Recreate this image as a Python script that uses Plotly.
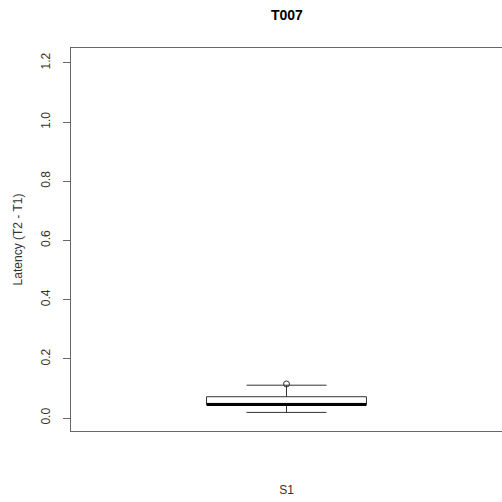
import plotly.graph_objects as go

groups = ["S1"]
q1 = [0.046]
median = [0.046]
q3 = [0.072]
lower_fence = [0.019]
upper_fence = [0.111]
outlier_values = [0.115]
y_ticks = [0.0, 0.2, 0.4, 0.6, 0.8, 1.0, 1.2]
y_tick_labels = ["0.0", "0.2", "0.4", "0.6", "0.8", "1.0", "1.2"]

pos = [1]
box_w = 0.371

fig = go.Figure()
fig.add_trace(go.Box(
    x=pos, q1=q1, median=median, q3=q3,
    lowerfence=lower_fence, upperfence=upper_fence,
    width=box_w, whiskerwidth=0.5,
    fillcolor="white",
    line=dict(color="#333333", width=1),
    boxpoints=False, hoverinfo="skip", showlegend=False,
))
fig.add_trace(go.Scatter(
    x=[pos[0] - box_w / 2, pos[0] + box_w / 2], y=[median[0], median[0]],
    mode="lines", line=dict(color="black", width=3),
    hoverinfo="skip", showlegend=False,
))
fig.add_trace(go.Scatter(
    x=pos * len(outlier_values), y=outlier_values,
    mode="markers",
    marker=dict(symbol="circle-open", size=6, color="#333333", line=dict(width=1)),
    hoverinfo="skip", showlegend=False,
))

font = "Liberation Sans, Arial, Helvetica, sans-serif"
fig.update_layout(
    width=502, height=502,
    margin=dict(l=71, r=0, t=48, b=71),
    paper_bgcolor="white", plot_bgcolor="white",
    font=dict(family=font, size=12, color="#333333"),
    title=dict(text="<b>T007</b>", x=0.5716, xanchor="center", y=0.97, yanchor="middle",
               font=dict(family=font, size=14, color="black")),
    xaxis=dict(range=[0.5, 1.5], showticklabels=False, ticks="", showgrid=False,
               zeroline=False, showline=True, linecolor="#666666", linewidth=1, mirror=True,
               title=dict(text="S1", standoff=54, font=dict(size=12, color="#333333"))),
    yaxis=dict(range=[-0.0438, 1.2505], tickvals=y_ticks, ticktext=y_tick_labels,
               tickangle=-90, ticks="outside", ticklen=7, tickcolor="#666666",
               ticklabelstandoff=8,
               showgrid=False, zeroline=False, showline=True, linecolor="#666666",
               linewidth=1, mirror=True, tickfont=dict(size=12, color="#333333"),
               title=dict(text="Latency (T2 - T1)", standoff=14, font=dict(size=12, color="#333333"))),
)
fig.write_html("out.html", config={"displayModeBar": False},
               post_script="document.body.style.margin='0';document.body.style.overflow='hidden';")
